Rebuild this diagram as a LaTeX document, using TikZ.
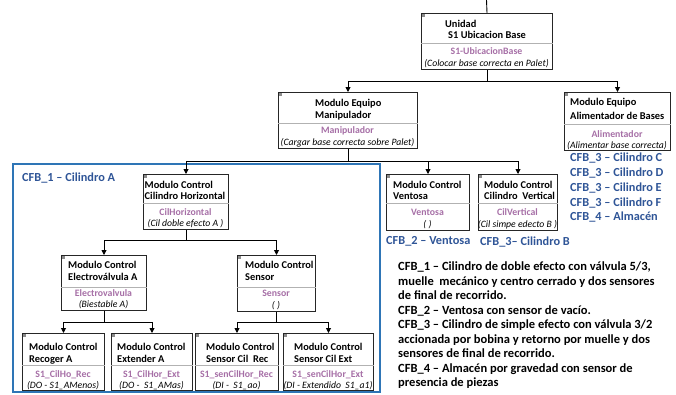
\documentclass[tikz,border=0pt]{standalone}
\usepackage{fontspec}
\setmainfont{Carlito}
\usetikzlibrary{arrows.meta}
\definecolor{pinkt}{HTML}{A66FA6}
\definecolor{cfbblue}{HTML}{2F5597}
\definecolor{framblue}{HTML}{2E75B6}
\tikzset{
  ubox/.style={draw=black!85,line width=1pt,rectangle,inner sep=0pt,anchor=north west},
  divline/.style={draw=black!30,line width=0.5pt},
  icon/.style={fill=black!45,draw=none},
  ttl/.style={font=\bfseries\fontsize{10.4}{11.5}\selectfont,inner sep=0pt,anchor=base west},
  pnk/.style={font=\bfseries\fontsize{9.8}{11}\selectfont,text=pinkt,inner sep=0pt,anchor=base},
  itl/.style={font=\itshape\fontsize{9.7}{11}\selectfont,inner sep=0pt,anchor=base},
  cfb/.style={font=\bfseries\fontsize{12.3}{14}\selectfont,text=cfbblue,inner sep=0pt,anchor=base west},
  conn/.style={draw=black,line width=0.9pt},
  arr/.style={conn,-{Triangle[length=5pt,width=5pt]}},
}
\newcommand\mkbox[6]{%
  \node[ubox,minimum width={(#4-#2)*1pt},minimum height={(#5-#3)*1pt}] (#1) at (#2,#3) {};
  \draw[divline] (#1.west |- 0,#6) -- (#1.east |- 0,#6);
  \fill[icon] (#2+1.2,#3+1.2) rectangle (#2+4.2,#3+4.2);
}
\begin{document}
\begin{tikzpicture}[x=1pt,y=-1pt]
\useasboundingbox (0,0) rectangle (676,394);
% blue frame
\draw[draw=framblue,line width=2pt] (13,164) rectangle (380,392);
% boxes
\mkbox{unidad}{421}{13}{552}{69}{43}
\mkbox{manip}{278}{92}{417}{148}{123}
\mkbox{alim}{564}{92}{670}{150}{124}
\mkbox{cilhor}{143}{174}{228}{229}{203}
\mkbox{vent}{386}{174}{469}{230}{203}
\mkbox{cilver}{478}{174}{557}{230}{203}
\mkbox{electro}{61}{255}{146}{310}{287}
\mkbox{sensor}{237}{255}{315}{311}{287}
\mkbox{recoger}{22}{333}{104}{390}{365}
\mkbox{extender}{111}{333}{192}{390}{365}
\mkbox{senrec}{195}{333}{278}{390}{365}
\mkbox{senext}{283}{333}{373}{390}{365}
% texts: unidad
\node[ttl] (t1a) at (445,27) {Unidad};
\node[ttl] (t1b) at (448,38) {S1 Ubicacion Base};
\node[pnk] (p1) at (486.5,54) {S1-UbicacionBase};
\node[itl] (i1) at (486.5,66) {(Colocar base correcta en Palet)};
% manip
\node[ttl] (t2a) at (315,106) {Modulo Equipo};
\node[ttl] (t2b) at (315,118) {Manipulador};
\node[pnk] (p2) at (347.5,133) {Manipulador};
\node[itl] (i2) at (347.5,145) {(Cargar base correcta sobre Palet)};
% alim
\node[ttl] (t3a) at (570,105) {Modulo Equipo};
\node[ttl] (t3b) at (570,119) {Alimentador de Bases};
\node[pnk] (p3) at (617,137) {Alimentador};
\node[itl] (i3) at (617,148.5) {(Alimentar base correcta)};
% cilhor
\node[ttl] (t4a) at (144.5,188) {Modulo Control};
\node[ttl] (t4b) at (144.5,199) {Cilindro Horizontal};
\node[pnk] (p4) at (185.5,215) {CilHorizontal};
\node[itl] (i4) at (185.5,226) {(Cil doble efecto A )};
% ventosa
\node[ttl] (t5a) at (393,188) {Modulo Control};
\node[ttl] (t5b) at (393,199) {Ventosa};
\node[pnk] (p5) at (427.5,215.5) {Ventosa};
\node[itl] (i5) at (427.5,227) {( )};
% cilver
\node[ttl] (t6a) at (484,188) {Modulo Control};
\node[ttl] (t6b) at (484,199) {Cilindro\ \ Vertical};
\node[pnk] (p6) at (517.5,215.5) {CilVertical};
\node[itl] (i6) at (517.5,227) {(Cil simpe edecto B )};
% electro
\node[ttl] (t7a) at (68,268) {Modulo Control};
\node[ttl] (t7b) at (68,280) {Electroválvula A};
\node[pnk] (p7) at (103.5,296) {Electrovalvula};
\node[itl] (i7) at (103.5,307.5) {(Biestable A)};
% sensor
\node[ttl] (t8a) at (245,268) {Modulo Control};
\node[ttl] (t8b) at (245,280.5) {Sensor};
\node[pnk] (p8) at (276,296.5) {Sensor};
\node[itl] (i8) at (276,308) {( )};
% bottom row
\node[ttl] (t9a) at (29,350) {Modulo Control};
\node[ttl] (t9b) at (29,362) {Recoger A};
\node[pnk] (p9) at (63,377) {S1\_CilHo\_Rec};
\node[itl] (i9) at (63,388) {(DO - S1\_AMenos)};
\node[ttl] (t10a) at (117,350) {Modulo Control};
\node[ttl] (t10b) at (117,362) {Extender A};
\node[pnk] (p10) at (151.5,377) {S1\_CilHor\_Ext};
\node[itl] (i10) at (151.5,388) {(DO -\ \ S1\_AMas)};
\node[ttl] (t11a) at (206,350) {Modulo Control};
\node[ttl] (t11b) at (206,362) {Sensor Cil\ \ Rec};
\node[pnk] (p11) at (236.5,377) {S1\_senCilHor\_Rec};
\node[itl] (i11) at (236.5,388) {(DI -\ \ S1\_ao)};
\node[ttl] (t12a) at (294,350) {Modulo Control};
\node[ttl] (t12b) at (294,362) {Sensor Cil Ext};
\node[pnk] (p12) at (328,377) {S1\_senCilHor\_Ext};
\node[itl] (i12) at (328,388) {(DI - Extendido\ \ S1\_a1)};
% blue labels
\node[cfb] (c1) at (22,181.5) {CFB\_1 – Cilindro A};
\node[cfb] (c2) at (386,244.5) {CFB\_2 – Ventosa};
\node[cfb] (c3) at (480,245) {CFB\_3– Cilindro B};
\node[cfb] (c4) at (570,161.5) {CFB\_3 – Cilindro C};
\node[cfb] (c5) at (570,176.5) {CFB\_3 – Cilindro D};
\node[cfb] (c6) at (570,191) {CFB\_3 – Cilindro E};
\node[cfb] (c7) at (570,206) {CFB\_3 – Cilindro F};
\node[cfb] (c8) at (570,220.5) {CFB\_4 – Almacén};
% description
\node[font=\bfseries\fontsize{12.5}{14.5}\selectfont,align=left,inner sep=0pt,anchor=north west] (desc) at (398,262)
 {CFB\_1 – Cilindro de doble efecto con válvula 5/3,\\
  muelle\ \ mecánico y centro cerrado y dos sensores\\
  de final de recorrido.\\
  CFB\_2 – Ventosa con sensor de vacío.\\
  CFB\_3 – Cilindro de simple efecto con válvula 3/2\\
  accionada por bobina y retorno por muelle y dos\\
  sensores de final de recorrido.\\
  CFB\_4 – Almacén por gravedad con sensor de\\
  presencia de piezas};
% connectors
\coordinate (topin) at (486.5,0);
\draw[conn] (topin) -- (unidad.north);
\draw[arr] (unidad.south) -- ++(0,11) -| (manip.north);
\draw[arr] (unidad.south) -- ++(0,11) -| (alim.north);
\draw[arr] (manip.south) -- ++(0,12) -| (cilhor.north);
\draw[arr] (manip.south) -- ++(0,12) -| (vent.north);
\draw[arr] (manip.south) -- ++(0,12) -| (cilver.north);
\draw[arr] (cilhor.south) -- ++(0,10) -| (electro.north);
\draw[arr] (cilhor.south) -- ++(0,10) -| (sensor.north);
\draw[arr] (electro.south) -- ++(0,11) -| (recoger.north);
\draw[arr] (electro.south) -- ++(0,11) -| (extender.north);
\draw[arr] (sensor.south) -- ++(0,10) -| (senrec.north);
\draw[arr] (sensor.south) -- ++(0,10) -| (senext.north);
\end{tikzpicture}
\end{document}
